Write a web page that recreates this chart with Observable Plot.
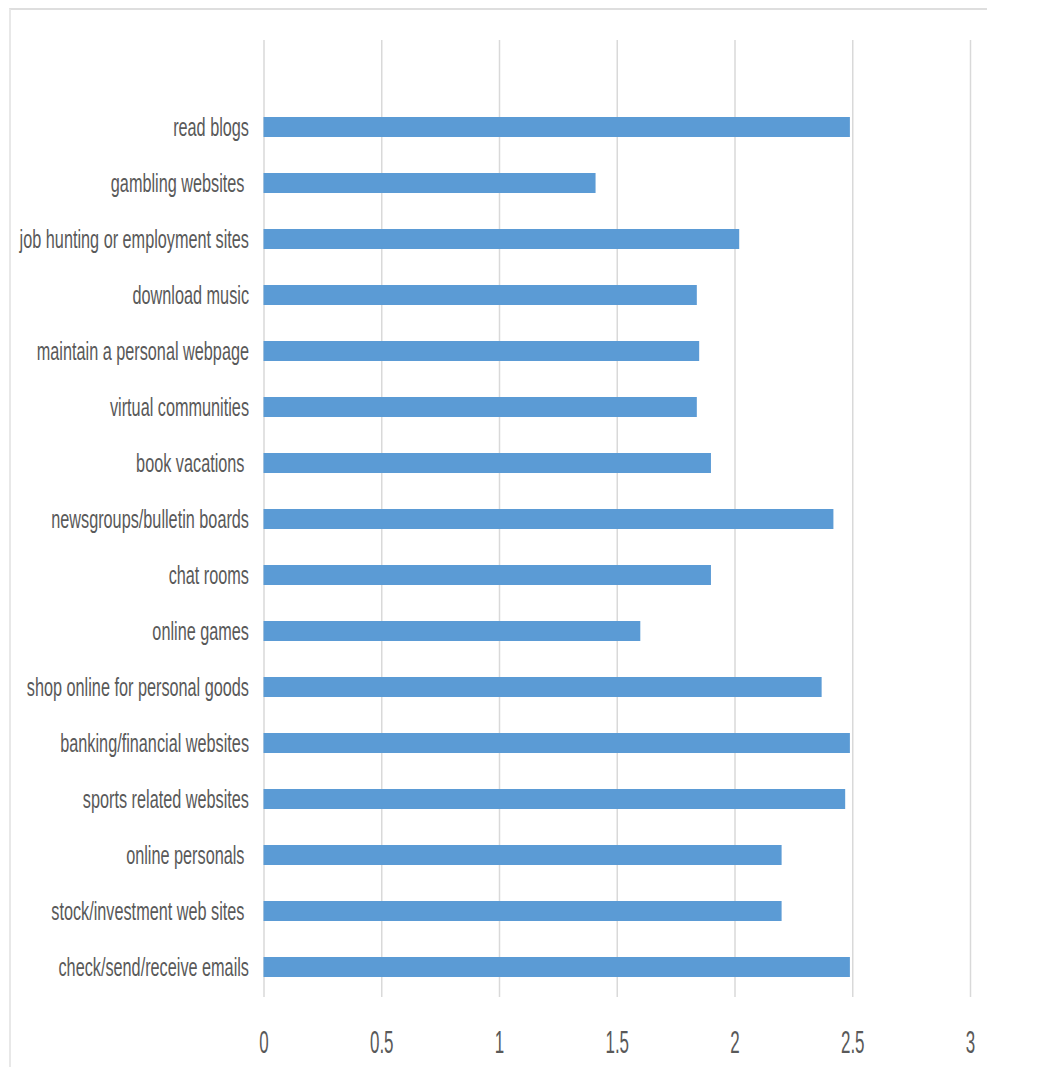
<!DOCTYPE html>
<html><head><meta charset="utf-8">
<script src="https://cdn.jsdelivr.net/npm/d3@7"></script>
<script src="https://cdn.jsdelivr.net/npm/@observablehq/plot@0.6"></script>
<style>
body{margin:0;background:#fff;}
#wrap{position:relative;width:1055px;height:1067px;overflow:hidden;background:#fff;}
#box{position:absolute;left:9px;top:8px;width:976px;height:1070px;border-top:2px solid #dedede;border-left:2px solid #e8e8e8;}
#chart{position:absolute;left:0;top:0;}
svg text{white-space:pre;}
</style></head><body>
<div id="wrap"><div id="box"></div><div id="chart"></div></div>
<script>
const categories = [
  "read blogs",
  "gambling websites ",
  "job hunting or employment sites",
  "download music",
  "maintain a personal webpage",
  "virtual communities",
  "book vacations ",
  "newsgroups/bulletin boards",
  "chat rooms",
  "online games",
  "shop online for personal goods",
  "banking/financial websites",
  "sports related websites",
  "online personals ",
  "stock/investment web sites ",
  "check/send/receive emails"
];
const values = [2.49, 1.41, 2.02, 1.84, 1.85, 1.84, 1.9, 2.42, 1.9, 1.6, 2.37, 2.49, 2.47, 2.2, 2.2, 2.49];
const xTicks = [0, 0.5, 1, 1.5, 2, 2.5, 3];

const data = categories.map((c, i) => ({activity: c, value: values[i]}));

const chart = Plot.plot({
  width: 1055, height: 1067,
  marginLeft: 263.5, marginRight: 85, marginTop: 40, marginBottom: 70,
  style: {fontFamily: '"Liberation Sans Narrow", "Liberation Sans", sans-serif', color: '#595959', background: 'transparent'},
  x: {domain: [0, 3], label: null},
  y: {domain: categories, range: [99, 995], paddingInner: 0.643, paddingOuter: 0.3214, label: null},
  marks: [
    Plot.gridX(xTicks, {stroke: '#d9d9d9', strokeOpacity: 1, strokeWidth: 1.5}),
    Plot.barX(data, {x: 'value', y: 'activity', fill: '#5B9BD5'}),
    Plot.axisX(xTicks, {tickSize: 0, tickPadding: 33, fontSize: 32, tickFormat: d => String(d), fill: '#595959', label: null}),
    Plot.axisY({tickSize: 0, tickPadding: 15, fontSize: 25, fill: '#595959', label: null})
  ]
});
document.getElementById('chart').appendChild(chart);

function squeeze(sel, s) {
  chart.querySelectorAll(sel).forEach(t => {
    const tr = t.getAttribute('transform') || '';
    t.setAttribute('transform', `${tr} scale(${s},1)`);
  });
}
squeeze('g[aria-label="y-axis tick label"] text', 0.65);
squeeze('g[aria-label="x-axis tick label"] text', 0.53);
</script>
</body></html>
